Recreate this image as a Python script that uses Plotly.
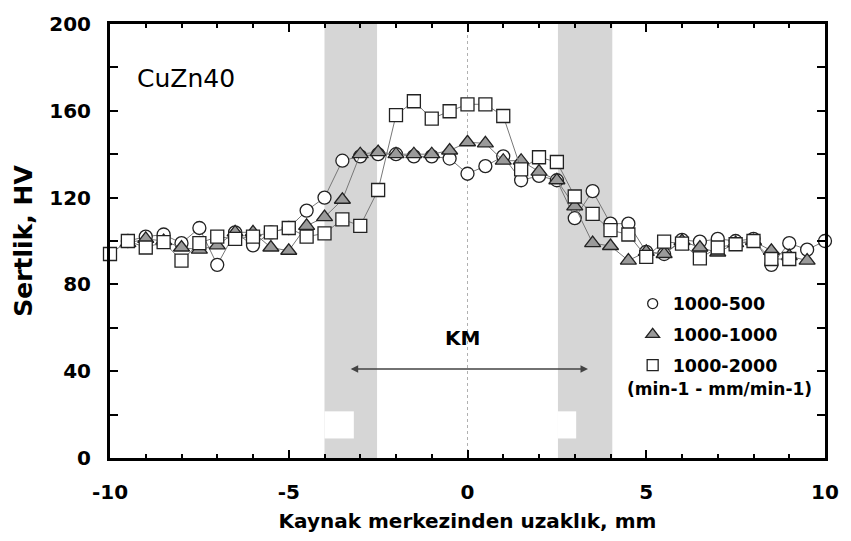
import plotly.graph_objects as go

# ---------------- data ----------------
x_mm = [-10, -9.5, -9, -8.5, -8, -7.5, -7, -6.5, -6, -5.5, -5, -4.5, -4, -3.5, -3, -2.5, -2, -1.5, -1, -0.5,
        0, 0.5, 1, 1.5, 2, 2.5, 3, 3.5, 4, 4.5, 5, 5.5, 6, 6.5, 7, 7.5, 8, 8.5, 9, 9.5, 10]

hv_1000_500 = [None, 100, 102, 103, 99, 106, 89, 104, 98, 104, 106, 114, 120, 137, 139, 140, 140, 139, 139, 138,
               131, 134.5, 139, 128, 130, 128, 110.5, 123, 108, 108, 95, 94, 100.5, 99.7, 101, 100, 101, 89, 99, 96, 100]

hv_1000_1000 = [None, 99, 101, 100, 97, 96, 98, 104, 104, 97, 95.5, 107, 111, 119, 140, 141, 140, 140, 140, 141.7,
                145.5, 145, 137, 137, 132, 128, 116, 99, 97.7, 91, 95, 94, 100, 97, 94.7, 99, 100, 95.5, 93, 91, None]

hv_1000_2000 = [94, 100, 97, 99.5, 91, 99, 102, 101, 102, 104, 106, 102, 103.5, 110, 107, 123.5, 158, 164.4, 156.4, 159.8,
                163, 163, 157.6, 133, 138.6, 136.4, 120.5, 112.5, 105, 103, 92.7, 99.7, 98.8, 92, 97, 98.5, 100, 91.7, 91.7, None, None]

series_names = ["1000-500", "1000-1000", "1000-2000"]

x_tick_vals = [-10, -5, 0, 5, 10]
x_tick_text = ["-10", "-5", "0", "5", "10"]
y_tick_vals = [0, 20, 40, 60, 80, 100, 120, 140, 160, 180, 200]
y_tick_text = ["0", "", "40", "", "80", "", "120", "", "160", "", "200"]

# shaded zones (mm) and the white notches inside them
zone_x0 = [-4.0, 2.53]
zone_x1 = [-2.53, 4.05]
notch_x0 = [-4.0, 2.53]
notch_x1 = [-3.18, 3.04]
notch_y = [9, 21.5]

# ---------------- figure ----------------
FONT = "DejaVu Sans"
fig = go.Figure()

line_style = dict(color="#777777", width=1)
styles = [
    dict(symbol="circle", size=13, color="white", line=dict(color="#222222", width=1.3)),
    dict(symbol="triangle-up", size=14, color="#9a9a9a", line=dict(color="#222222", width=1.3)),
    dict(symbol="square", size=13, color="white", line=dict(color="#222222", width=1.3)),
]
legend_sizes = [10, 12, 11]

for name, vals, st in zip(series_names, [hv_1000_500, hv_1000_1000, hv_1000_2000], styles):
    fig.add_trace(go.Scatter(x=x_mm, y=vals, mode="lines+markers", line=line_style,
                             marker=st, showlegend=False, cliponaxis=False, name=name))

for i, (name, st, sz) in enumerate(zip(series_names, styles, legend_sizes)):
    m = dict(st)
    m["size"] = sz
    fig.add_trace(go.Scatter(x=[None], y=[None], mode="markers", marker=m, name=name,
                             legendgroup="g%d" % i, showlegend=True))

shapes = []
for a, b in zip(zone_x0, zone_x1):
    shapes.append(dict(type="rect", xref="x", yref="y", x0=a, x1=b, y0=0, y1=200,
                       fillcolor="#d6d6d6", line=dict(width=0), layer="below"))
for a, b in zip(notch_x0, notch_x1):
    shapes.append(dict(type="rect", xref="x", yref="y", x0=a, x1=b, y0=notch_y[0], y1=notch_y[1],
                       fillcolor="white", line=dict(width=0), layer="below"))
shapes.append(dict(type="line", xref="x", yref="y", x0=0, x1=0, y0=0, y1=200,
                   line=dict(color="#b0b0b0", width=1, dash="dot"), layer="below"))

annotations = [
    dict(x=-9.3, y=175, xref="x", yref="y", text="CuZn40", showarrow=False, xanchor="left",
         font=dict(family=FONT, size=25, color="black")),
    dict(x=-0.15, y=55.5, xref="x", yref="y", text="KM", showarrow=False,
         font=dict(family=FONT, size=20, color="black", weight="bold")),
    dict(x=3.37, y=41, ax=-3.31, ay=41, xref="x", yref="y", axref="x", ayref="y", text="",
         showarrow=True, arrowhead=2, arrowside="end+start", arrowsize=1, arrowwidth=1.5,
         arrowcolor="#444444"),
    dict(x=7.05, y=31.8, xref="x", yref="y", text="(min-1 - mm/min-1)", showarrow=False,
         font=dict(family=FONT, size=17, color="black", weight="bold")),
]

axis_common = dict(showline=True, linewidth=3, linecolor="black", mirror="ticks",
                   ticks="inside", tickcolor="black", tickwidth=2, showgrid=False, zeroline=False)

fig.update_layout(
    width=851, height=541,
    margin=dict(l=110, r=23, t=20, b=81),
    plot_bgcolor="white", paper_bgcolor="white",
    font=dict(family=FONT, color="black"),
    shapes=shapes, annotations=annotations,
    legend=dict(x=0.731, y=0.397, xanchor="left", yanchor="top", bgcolor="rgba(0,0,0,0)",
                font=dict(family=FONT, size=17.5, color="black", weight="bold"),
                tracegroupgap=5, itemwidth=30),
    xaxis=dict(range=[-10, 10], tickvals=x_tick_vals, ticktext=x_tick_text, ticklen=8,
               tickfont=dict(family=FONT, size=20, weight="bold"), ticklabelstandoff=14,
               minor=dict(dtick=1, tick0=0, ticks="inside", ticklen=4, tickwidth=1.5, tickcolor="black", showgrid=False),
               title=dict(text="Kaynak merkezinden uzaklık, mm", standoff=11,
                          font=dict(family=FONT, size=20, weight="bold")),
               **axis_common),
    yaxis=dict(range=[0, 200], tickvals=y_tick_vals, ticktext=y_tick_text, ticklen=8,
               tickfont=dict(family=FONT, size=20, weight="bold"), ticklabelstandoff=12,
               title=dict(text="Sertlik, HV", standoff=10,
                          font=dict(family=FONT, size=25, weight="bold")),
               **axis_common),
)

fig.write_html("out.html", config={"displayModeBar": False},
               post_script="document.body.style.margin='0';document.body.style.overflow='hidden';")
